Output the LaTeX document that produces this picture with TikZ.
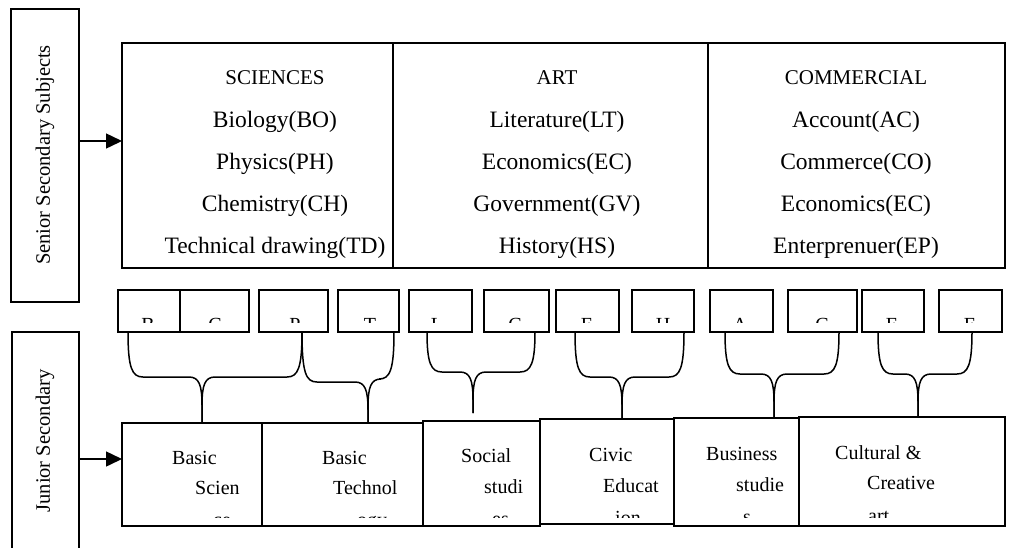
\documentclass[tikz,border=0pt]{standalone}
\usepackage{fontspec}
\setmainfont{Liberation Serif}
\usetikzlibrary{arrows.meta,calc}
\newcommand\rbox[5]{\node[box,minimum width={#4-#2},minimum height={#5-#3}] (#1) at (#2,#3) {};}
\newcommand\cliplet[4]{\begin{scope}\clip (#1.north west) rectangle ([yshift=10pt]#1.south east);
  \node[lett] (#4) at (#2,331) {#3};\end{scope}}
\newcommand\halfbrace[6]{\draw[link] (#1.south -| #2,0) .. controls ({#2},{#3-9}) and ({#2+(#5)*4},{#3}) .. ({#2+(#5)*15},{#3})
  -- ({#4-(#5)*13},{#3}) .. controls ({#4-(#5)*3},{#3}) and ({#4},{#3+8}) .. ({#4},{#3+28}) -- (#6);}
\begin{document}
\begin{tikzpicture}[x=1pt,y=-1pt,
  box/.style={draw,line width=1.5pt,inner sep=0pt,outer sep=0pt,anchor=north west},
  link/.style={line width=1.5pt},
  arr/.style={line width=1.5pt,-{Triangle[length=16pt,width=15pt]}},
  side/.style={font=\fontsize{20.5}{24}\selectfont,rotate=90,inner sep=0pt},
  head/.style={font=\fontsize{21}{25}\selectfont,anchor=base,inner sep=0pt},
  item/.style={font=\fontsize{23.5}{28}\selectfont,anchor=base,inner sep=0pt},
  lett/.style={font=\fontsize{20}{24}\selectfont,anchor=base,inner sep=0pt},
  jt/.style={font=\fontsize{20}{23}\selectfont,anchor=base west,inner sep=0pt}]
\useasboundingbox (0,0) rectangle (1013,547);
% side boxes
\rbox{sen}{11}{9}{79}{302}
\node[side] (sent) at (45,155) {Senior Secondary Subjects};
\rbox{jun}{12}{332}{79}{580}
\node[side] (junt) at (45,441) {Junior Secondary};
% top boxes
\rbox{sci}{122}{43}{393}{268}
\rbox{art}{393}{43}{708}{268}
\rbox{com}{708}{43}{1005}{268}
\node[head] (h1) at (275,84) {SCIENCES};
\node[item] (a1) at (275,127) {Biology(BO)};
\node[item] (a2) at (275,169) {Physics(PH)};
\node[item] (a3) at (275,211) {Chemistry(CH)};
\node[item] (a4) at (275,253) {Technical drawing(TD)};
\node[head] (h2) at (557,84) {ART};
\node[item] (b1) at (557,127) {Literature(LT)};
\node[item] (b2) at (557,169) {Economics(EC)};
\node[item] (b3) at (557,211) {Government(GV)};
\node[item] (b4) at (557,253) {History(HS)};
\node[head] (h3) at (856,84) {COMMERCIAL};
\node[item] (c1) at (856,127) {Account(AC)};
\node[item] (c2) at (856,169) {Commerce(CO)};
\node[item] (c3) at (856,211) {Economics(EC)};
\node[item] (c4) at (856,253) {Enterprenuer(EP)};
% small boxes
\rbox{s1}{118}{290}{180}{332}
\rbox{s2}{180}{290}{249}{332}
\rbox{s3}{259}{290}{328}{332}
\rbox{s4}{338}{290}{399}{332}
\rbox{s5}{409}{290}{472}{332}
\rbox{s6}{484}{290}{549}{332}
\rbox{s7}{556}{290}{619}{332}
\rbox{s8}{632}{290}{694}{332}
\rbox{s9}{710}{290}{773}{332}
\rbox{s10}{788}{290}{857}{332}
\rbox{s11}{862}{290}{924}{332}
\rbox{s12}{939}{290}{1002}{332}
\cliplet{s1}{148}{B}{l1}
\cliplet{s2}{215}{C}{l2}
\cliplet{s3}{295}{P}{l3}
\cliplet{s4}{370}{T}{l4}
\cliplet{s5}{437}{L}{l5}
\cliplet{s6}{515}{C}{l6}
\cliplet{s7}{587}{E}{l7}
\cliplet{s8}{663}{H}{l8}
\cliplet{s9}{740}{A}{l9}
\cliplet{s10}{822}{C}{l10}
\cliplet{s11}{892}{E}{l11}
\cliplet{s12}{970}{E}{l12}
% junior boxes
\rbox{ja}{122}{423}{262}{526}
\rbox{jb}{262}{423}{423}{526}
\rbox{jc}{423}{421}{540}{526}
\rbox{jd}{540}{419}{674}{524}
\rbox{je}{674}{418}{799}{526}
\rbox{jf}{799}{417}{1005}{526}
% arrows
\draw[arr] (sen.east |- 0,141) -- (sci.west |- 0,141);
\draw[arr] (jun.east |- 0,459) -- (ja.west |- 0,459);
\begin{scope}\clip (ja.north west) rectangle ([yshift=9pt]ja.south east);
\node[jt] (ja1) at (172,464) {Basic};
\node[jt] (ja2) at (195,494) {Scien};
\node[jt] (ja3) at (213,526) {ce};
\end{scope}
\begin{scope}\clip (jb.north west) rectangle ([yshift=9pt]jb.south east);
\node[jt] (jb1) at (322,464) {Basic};
\node[jt] (jb2) at (333,494) {Technol};
\node[jt] (jb3) at (357,526) {ogy};
\end{scope}
\begin{scope}\clip (jc.north west) rectangle ([yshift=9pt]jc.south east);
\node[jt] (jc1) at (461,462) {Social};
\node[jt] (jc2) at (484,493) {studi};
\node[jt] (jc3) at (492,525) {es};
\end{scope}
\begin{scope}\clip (jd.north west) rectangle ([yshift=7pt]jd.south east);
\node[jt] (jd1) at (589,461) {Civic};
\node[jt] (jd2) at (603,492) {Educat};
\node[jt] (jd3) at (615,524) {ion};
\end{scope}
\begin{scope}\clip (je.north west) rectangle ([yshift=9pt]je.south east);
\node[jt] (je1) at (706,460) {Business};
\node[jt] (je2) at (736,491) {studie};
\node[jt] (je3) at (743,523) {s};
\end{scope}
\begin{scope}\clip (jf.north west) rectangle ([yshift=9pt]jf.south east);
\node[jt] (jf1) at (835,459) {Cultural \&};
\node[jt] (jf2) at (867,489) {Creative};
\node[jt] (jf3) at (868,522) {art};
\end{scope}
% braces
\coordinate (e3) at (473,413);
\halfbrace{s1}{128}{377}{202}{1}{ja.north -| 202,0}
\halfbrace{s3}{302}{377}{202}{-1}{ja.north -| 202,0}
\halfbrace{s3}{302}{382}{368}{1}{jb.north -| 368,0}
\halfbrace{s4}{394}{379}{368}{-1}{jb.north -| 368,0}
\halfbrace{s5}{427}{372}{473}{1}{e3}
\halfbrace{s6}{535}{372}{473}{-1}{e3}
\halfbrace{s7}{575}{377}{622}{1}{jd.north -| 622,0}
\halfbrace{s8}{684}{377}{622}{-1}{jd.north -| 622,0}
\halfbrace{s9}{725}{374}{774}{1}{je.north -| 774,0}
\halfbrace{s10}{839}{374}{774}{-1}{je.north -| 774,0}
\halfbrace{s11}{878}{374}{918}{1}{jf.north -| 918,0}
\halfbrace{s12}{972}{374}{918}{-1}{jf.north -| 918,0}
\end{tikzpicture}
\end{document}
